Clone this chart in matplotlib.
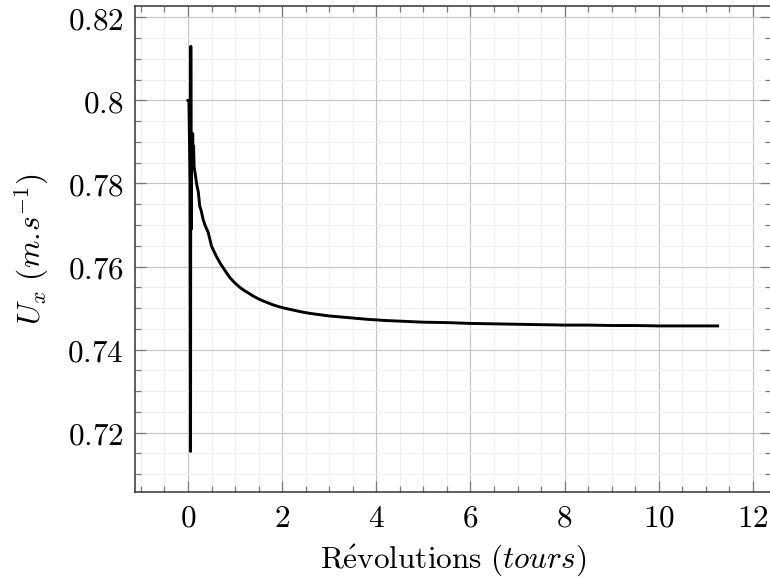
import matplotlib
matplotlib.use("Agg")
import matplotlib.pyplot as plt
from matplotlib.ticker import MultipleLocator

# ---- data ----
revolutions = [0.00, 0.02, 0.045, 0.055, 0.060, 0.065, 0.070, 0.080, 0.090, 0.100,
               0.110, 0.120, 0.130, 0.150, 0.170, 0.190, 0.220, 0.250, 0.280,
               0.320, 0.360, 0.430, 0.500, 0.600, 0.700, 0.800, 0.900, 1.00,
               1.10, 1.20, 1.30, 1.40, 1.50, 1.60, 1.80, 2.00, 2.20, 2.40,
               2.60, 2.80, 3.00, 3.40, 3.80, 4.20, 4.60, 5.00, 5.50, 6.00,
               6.50, 7.00, 7.50, 8.00, 8.50, 9.00, 9.50, 10.0, 10.5, 11.0, 11.25]
ux = [0.8000, 0.8000, 0.7800, 0.7155, 0.8130, 0.7850, 0.7690, 0.7880, 0.7860, 0.7920,
      0.7850, 0.7890, 0.7840, 0.7826, 0.7810, 0.7795, 0.7779, 0.7745, 0.7735,
      0.7714, 0.7700, 0.7682, 0.7649, 0.7625, 0.7605, 0.7588, 0.7572, 0.7560,
      0.7550, 0.7542, 0.7535, 0.7528, 0.7522, 0.7517, 0.7508, 0.7501, 0.7496, 0.7491,
      0.7487, 0.7484, 0.7481, 0.7477, 0.7473, 0.7470, 0.7468, 0.7466, 0.7465, 0.7463,
      0.7462, 0.7461, 0.7460, 0.7459, 0.7459, 0.7458, 0.7458, 0.7457, 0.7457, 0.7457, 0.7457]

xticks = [0, 2, 4, 6, 8, 10, 12]
xtick_labels = ["0", "2", "4", "6", "8", "10", "12"]
yticks = [0.72, 0.74, 0.76, 0.78, 0.80, 0.82]
ytick_labels = ["0.72", "0.74", "0.76", "0.78", "0.8", "0.82"]

xlabel = r"$\mathrm{R\acute{e}volutions}\ (tours)$"
ylabel = r"$U_x\ (m{.}\!s^{-1})$"

# ---- style ----
plt.rcParams["mathtext.fontset"] = "cm"
plt.rcParams["font.family"] = ["DejaVu Serif"]

fig = plt.figure(figsize=(7.7, 5.79), dpi=100)
ax = fig.add_axes([135 / 770, 1 - 491.7 / 579, (770.6 - 135) / 770, (491.7 - 6) / 579])

ax.plot(revolutions, ux, color="black", lw=2.1, solid_joinstyle="round", zorder=3)

ax.set_xlim(-1.125, 12.375)
ax.set_ylim(0.7058, 0.8227)

ax.set_xticks(xticks)
ax.set_xticklabels(["$%s$" % t for t in xtick_labels])
ax.set_yticks(yticks)
ax.set_yticklabels(["$%s$" % t for t in ytick_labels])
ax.xaxis.set_minor_locator(MultipleLocator(0.5))
ax.yaxis.set_minor_locator(MultipleLocator(0.005))

ax.grid(which="major", color="#c4c4c4", lw=0.8, zorder=0)
ax.grid(which="minor", color="#efefef", lw=0.8, zorder=0)
ax.set_axisbelow(True)

ax.tick_params(which="both", direction="in", top=True, right=True, color="#7a7a7a",
               labelsize=22.5)
ax.tick_params(which="major", length=8, width=0.9)
ax.tick_params(which="minor", length=4.5, width=0.9)
ax.tick_params(axis="x", which="major", pad=8)
ax.tick_params(axis="y", which="major", pad=8)

for s in ax.spines.values():
    s.set_color("#333333")
    s.set_linewidth(1.1)

ax.set_xlabel(xlabel, fontsize=22.5, labelpad=6)
ax.set_ylabel(ylabel, fontsize=22.5, labelpad=12)

fig.savefig("out.png", dpi=100)
